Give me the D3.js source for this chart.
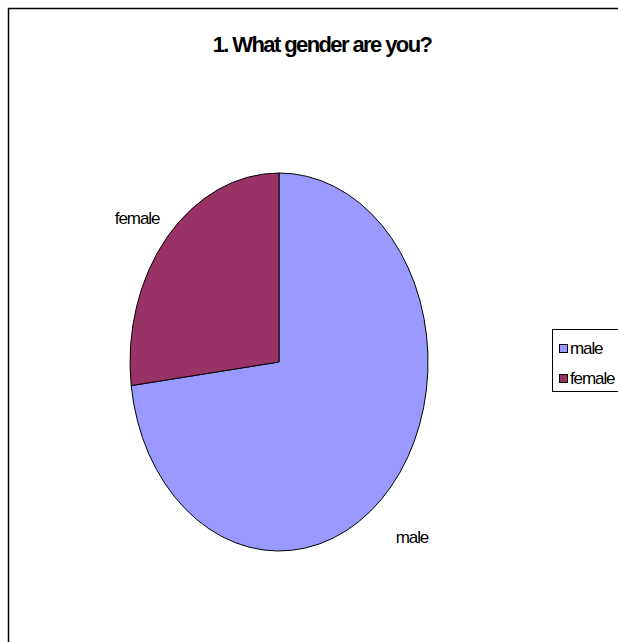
<!DOCTYPE html>
<html>
<head>
<meta charset="utf-8">
<script src="https://cdn.jsdelivr.net/npm/d3@7"></script>
<style>
  html, body { margin: 0; padding: 0; background: #fff; }
  svg { display: block; font-family: "Liberation Sans", Arial, sans-serif; }
</style>
</head>
<body>
<svg id="chart" width="618" height="642"></svg>
<script>
const title = "1. What gender are you?";
const categories = ["male", "female"];
const values = [73, 27];
const colors = ["#9999FF", "#993366"];

const svg = d3.select("#chart");

// outer chart frame (extends past right/bottom edges)
svg.append("rect")
  .attr("x", 8.5).attr("y", 8.5)
  .attr("width", 700).attr("height", 700)
  .attr("fill", "#fff").attr("stroke", "#000").attr("stroke-width", 1.5);

svg.append("text")
  .attr("x", 322).attr("y", 52)
  .attr("text-anchor", "middle")
  .attr("font-weight", "bold")
  .attr("font-size", 22)
  .attr("letter-spacing", "-1.6")
  .text(title);

const cx = 279, cy = 362, rx = 149, ry = 189;
const data = categories.map((c, i) => ({ name: c, value: values[i], color: colors[i] }));

const pie = d3.pie().value(d => d.value).sort(null);
const arcs = pie(data);
const arc = d3.arc().innerRadius(0).outerRadius(1);

const g = svg.append("g").attr("transform", `translate(${cx},${cy})`);
g.append("g").attr("transform", `scale(${rx},${ry})`)
  .selectAll("path").data(arcs).join("path")
  .attr("d", arc)
  .attr("fill", d => d.data.color)
  .attr("stroke", "#000")
  .attr("stroke-width", 1)
  .attr("vector-effect", "non-scaling-stroke");

// labels
const labelK = { male: [1.19, 1.40], female: [1.27, 1.15] };
g.selectAll("text.lbl").data(arcs).join("text")
  .attr("class", "lbl")
  .attr("x", d => { const a = (d.startAngle + d.endAngle) / 2; return Math.sin(a) * rx * labelK[d.data.name][0]; })
  .attr("y", d => { const a = (d.startAngle + d.endAngle) / 2; return -Math.cos(a) * ry * labelK[d.data.name][1]; })
  .attr("dy", "0.35em")
  .attr("text-anchor", "middle")
  .attr("font-size", 17)
  .attr("letter-spacing", "-1.1")
  .text(d => d.data.name);

// legend
const lg = svg.append("g");
lg.append("rect")
  .attr("x", 552.5).attr("y", 329.5)
  .attr("width", 100).attr("height", 62)
  .attr("fill", "#fff").attr("stroke", "#000").attr("stroke-width", 1);
const item = lg.selectAll("g.item").data(data).join("g")
  .attr("class", "item")
  .attr("transform", (d, i) => `translate(559,${348 + i * 30})`);
item.append("rect")
  .attr("x", 0.5).attr("y", -3.5)
  .attr("width", 8).attr("height", 8)
  .attr("fill", d => d.color).attr("stroke", "#000").attr("stroke-width", 1);
item.append("text")
  .attr("x", 11).attr("y", 0).attr("dy", "0.35em")
  .attr("font-size", 17)
  .attr("letter-spacing", "-1.1")
  .text(d => d.name);
</script>
</body>
</html>
